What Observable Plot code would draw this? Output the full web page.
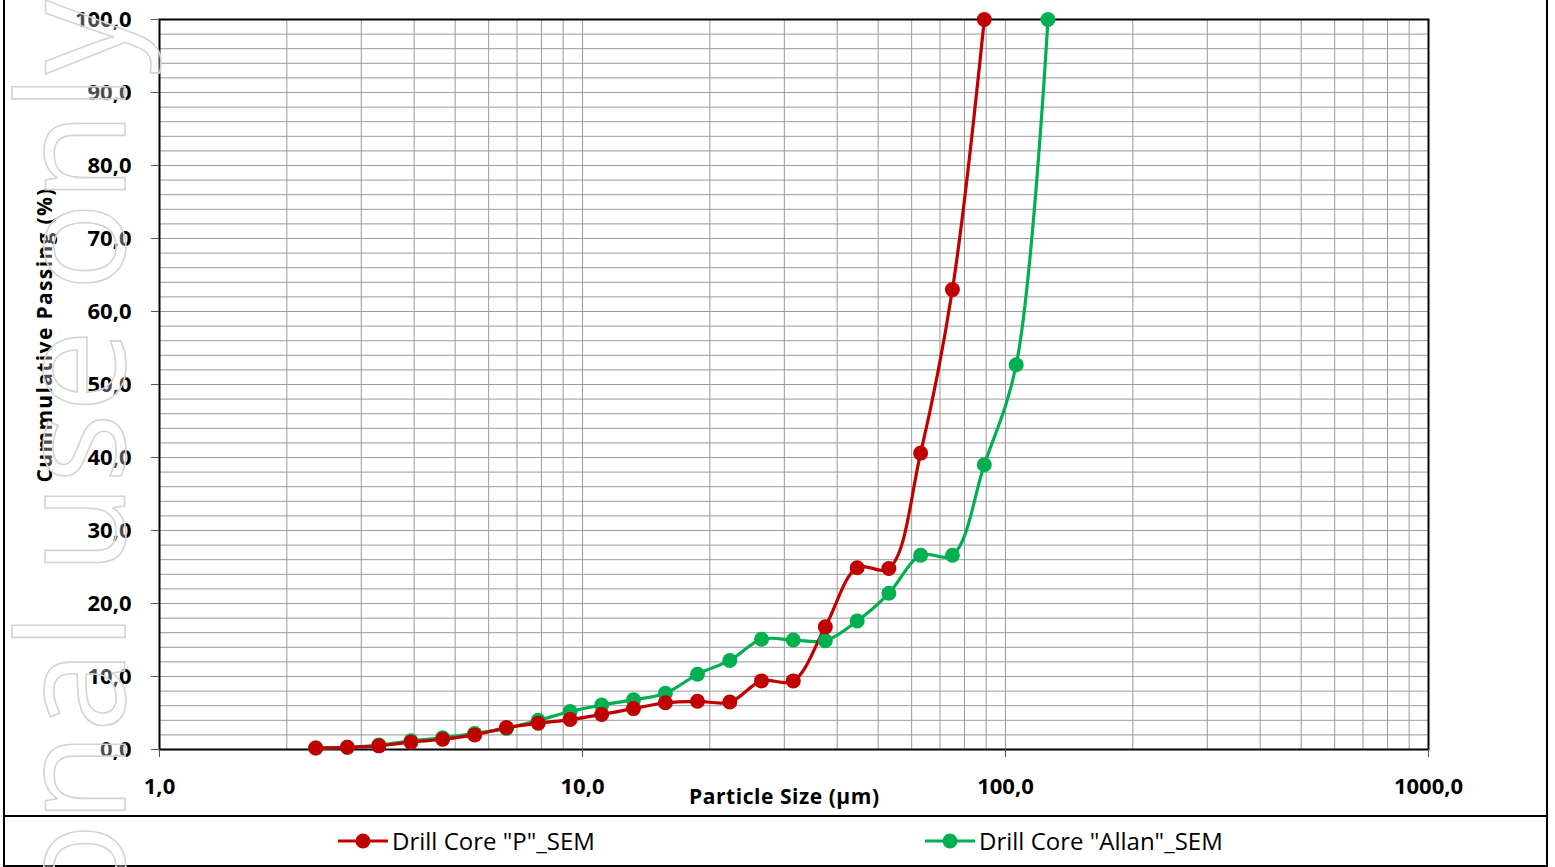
<!DOCTYPE html>
<html>
<head>
<meta charset="utf-8">
<script src="https://cdn.jsdelivr.net/npm/d3@7"></script>
<script src="https://cdn.jsdelivr.net/npm/@observablehq/plot@0.6"></script>
<style>
  html, body { margin: 0; padding: 0; background: #fff; overflow: hidden; }
  body { width: 1555px; height: 867px; position: relative; font-family: "Open Sans", "Noto Sans", sans-serif; }
  #chart { position: absolute; left: 0; top: 0; }
  #frame { position: absolute; left: 3px; top: -10px; width: 1541px; height: 873px; border: 2px solid #000; box-sizing: content-box; pointer-events: none; }
  #legendSep { position: absolute; left: 3px; top: 815px; width: 1543px; height: 0; border-top: 2px solid #000; }
  #legend { position: absolute; left: 0; top: 817px; width: 1555px; height: 47px; }
  .item { position: absolute; top: 0; height: 47px; display: flex; align-items: center; font-size: 24px; color: #000; white-space: nowrap; }
  #wm { position: absolute; left: 0; top: 0; pointer-events: none; }
</style>
</head>
<body>
<div id="chart"></div>
<div id="legendSep"></div>
<div id="legend"></div>
<div id="frame"></div>
<svg id="wm" width="1555" height="867"></svg>
<script>
const sizesP = [2.34, 2.78, 3.30, 3.93, 4.67, 5.56, 6.61, 7.86, 9.35, 11.1, 13.2, 15.7, 18.7, 22.3, 26.5, 31.5, 37.5, 44.6, 53.0, 63.0, 74.9, 89.1];
const passP  = [0.2, 0.3, 0.5, 1.0, 1.4, 2.0, 3.0, 3.6, 4.1, 4.8, 5.6, 6.4, 6.6, 6.5, 9.4, 9.4, 16.8, 24.9, 24.8, 40.6, 63.0, 100.0];
const sizesA = [2.34, 2.78, 3.30, 3.93, 4.67, 5.56, 6.61, 7.86, 9.35, 11.1, 13.2, 15.7, 18.7, 22.3, 26.5, 31.5, 37.5, 44.6, 53.0, 63.0, 74.9, 89.1, 106, 126];
const passA  = [0.2, 0.3, 0.6, 1.2, 1.6, 2.2, 2.9, 4.0, 5.2, 6.1, 6.8, 7.7, 10.3, 12.2, 15.1, 15.0, 14.9, 17.6, 21.4, 26.6, 26.6, 39.0, 52.7, 100.0];
const seriesNames = ['Drill Core "P"_SEM', 'Drill Core "Allan"_SEM'];
const seriesColors = ["#C00000", "#00B050"];
const xTicks = [1, 10, 100, 1000];
const yTicks = [0, 10, 20, 30, 40, 50, 60, 70, 80, 90, 100];
const xTitle = "Particle Size (µm)";
const yTitle = "Cummulative Passing (%)";

const dataP = sizesP.map((s, i) => ({size: s, pass: passP[i]}));
const dataA = sizesA.map((s, i) => ({size: s, pass: passA[i]}));
const fmt = d => d.toFixed(1).replace(".", ",");
const font = '"Open Sans", "Noto Sans", sans-serif';

const plot = Plot.plot({
  width: 1555,
  height: 816,
  marginLeft: 159,
  marginRight: 127,
  marginTop: 19,
  marginBottom: 67,
  style: {fontFamily: font, fontSize: "22px", color: "#000", background: "transparent"},
  x: {type: "log", domain: [1, 1000]},
  y: {domain: [0, 100]},
  marks: [
    Plot.gridX({ticks: 30, stroke: "#9a9a9a", strokeOpacity: 1, strokeWidth: 1}),
    Plot.gridY({ticks: 50, stroke: "#9a9a9a", strokeOpacity: 1, strokeWidth: 1}),
    Plot.frame({stroke: "#000", strokeWidth: 2}),
    Plot.axisX({ticks: xTicks, tickFormat: fmt, tickSize: 8, tickPadding: 21, fontWeight: "bold", label: null, stroke: "#555"}),
    Plot.axisY({ticks: yTicks, tickFormat: fmt, tickSize: 8, tickPadding: 20, fontWeight: "bold", label: null, stroke: "#555"}),
    Plot.text([xTitle], {frameAnchor: "bottom", dy: 54, dx: -10, text: d => d, fontWeight: "bold", fontSize: 21, className: "xtitle"}),
    Plot.text([yTitle], {frameAnchor: "left", textAnchor: "middle", dx: -114, dy: -49, rotate: -90, text: d => d, fontWeight: "bold", fontSize: 21, className: "ytitle"}),
    Plot.line(dataA, {x: "size", y: "pass", stroke: seriesColors[1], strokeWidth: 3.2, curve: "catmull-rom"}),
    Plot.line(dataP, {x: "size", y: "pass", stroke: seriesColors[0], strokeWidth: 3.2, curve: "catmull-rom"}),
    Plot.dot(dataA, {x: "size", y: "pass", r: 7.5, fill: seriesColors[1], stroke: "none"}),
    Plot.dot(dataP, {x: "size", y: "pass", r: 7.5, fill: seriesColors[0], stroke: "none"})
  ]
});
document.getElementById("chart").appendChild(plot);
d3.select(plot).selectAll(".xtitle text").attr("textLength", 190).attr("lengthAdjust", "spacing");
d3.select(plot).selectAll(".ytitle text").attr("textLength", 294).attr("lengthAdjust", "spacing");

// legend
const legend = document.getElementById("legend");
const legendX = [338, 925];
seriesNames.forEach((name, i) => {
  const div = document.createElement("div");
  div.className = "item";
  div.style.left = legendX[i] + "px";
  div.innerHTML = `<svg width="52" height="20" style="margin-right:2px"><line x1="0" x2="50" y1="10" y2="10" stroke="${seriesColors[i]}" stroke-width="3.2"/><circle cx="25" cy="10" r="7.5" fill="${seriesColors[i]}"/></svg><span></span>`;
  div.querySelector("span").textContent = name;
  legend.appendChild(div);
});

// watermark
const wm = d3.select("#wm");
wm.append("text")
  .attr("transform", "translate(125,0) rotate(-90)")
  .attr("text-anchor", "end")
  .attr("font-family", font)
  .attr("font-size", 148)
  .attr("fill", "#fff")
  .attr("fill-opacity", 0.3)
  .attr("stroke", "#d4d4d4")
  .attr("stroke-width", 1.6)
  .text("For personal use only");
</script>
</body>
</html>
